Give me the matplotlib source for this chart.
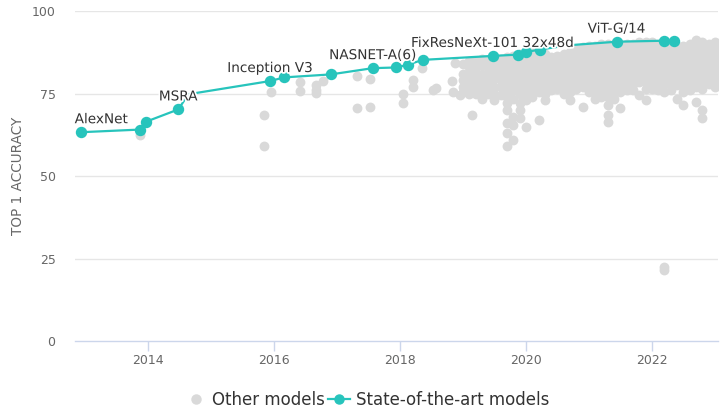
import matplotlib
matplotlib.use("Agg")
import matplotlib.pyplot as plt
import matplotlib.patheffects as pe
from matplotlib.lines import Line2D

# ---- state-of-the-art progression (decimal year, top-1 accuracy) ----
sota_year = [2012.93, 2013.87, 2013.97, 2014.48, 2014.64, 2015.94, 2016.16, 2016.90,
             2017.57, 2017.94, 2018.12, 2018.36, 2019.47, 2019.88, 2020.00, 2020.22,
             2020.66, 2021.44, 2022.19, 2022.35]
sota_acc = [63.3, 64.1, 66.5, 70.2, 74.8, 78.8, 79.9, 80.8,
            82.7, 82.9, 83.7, 85.2, 86.4, 86.8, 87.6, 88.3,
            89.6, 90.7, 91.0, 91.0]
sota_visible = [True, True, True, True, False, True, True, True,
                True, True, True, True, True, True, True, True,
                False, True, True, True]
sota_names = {0: "AlexNet", 3: "MSRA", 5: "Inception V3", 8: "NASNET-A(6)",
              12: "FixResNeXt-101 32x48d", 17: "ViT-G/14"}

# ---- other models: sparse early results ----
early_year = [2013.87, 2015.84, 2015.84, 2015.96, 2016.41, 2016.41, 2016.67, 2016.67,
              2016.67, 2016.78, 2017.31, 2017.31, 2017.52, 2017.52, 2018.05, 2018.05,
              2018.21, 2018.21, 2018.35, 2018.53, 2018.58, 2018.82, 2018.84, 2018.87,
              2018.95, 2019.14]
early_acc = [62.5, 68.4, 59.0, 75.5, 78.4, 75.8, 77.7, 76.1,
             75.2, 78.9, 80.4, 70.6, 79.4, 70.9, 74.8, 72.1,
             79.0, 77.0, 82.7, 76.2, 76.7, 78.7, 75.6, 84.4,
             74.6, 68.6]

# ---- other models: dense results from 2019 onward, grouped by release period ----
cloud_year = [2019.0, 2019.1, 2019.2, 2019.3, 2019.4, 2019.5, 2019.6, 2019.7, 2019.8,
              2019.9, 2020.0, 2020.1, 2020.2, 2020.3, 2020.4, 2020.5, 2020.6, 2020.7,
              2020.8, 2020.9, 2021.0, 2021.1, 2021.2, 2021.3, 2021.4, 2021.5, 2021.6,
              2021.7, 2021.8, 2021.9, 2022.0, 2022.1, 2022.2, 2022.3, 2022.4, 2022.5,
              2022.6, 2022.7, 2022.8, 2022.9, 2023.0]
cloud_acc = [
    [84.0, 81.0, 79.0, 77.0, 75.5],
    [85.0, 83.0, 81.0, 79.0, 77.0, 75.0],
    [85.0, 83.0, 81.0, 79.0, 77.0, 75.0],
    [85.5, 83.5, 81.0, 79.0, 77.0, 75.5, 73.5],
    [85.0, 83.0, 81.0, 79.0, 77.0, 75.0],
    [85.5, 83.5, 81.5, 79.5, 77.0, 75.0, 73.0],
    [85.5, 83.0, 81.0, 79.0, 77.0, 74.5],
    [86.0, 84.0, 82.0, 80.0, 78.0, 76.0, 74.0, 72.0, 70.0, 66.0, 63.0, 59.0],
    [86.5, 84.5, 82.5, 80.0, 78.0, 76.0, 73.5, 68.0, 65.5, 61.0],
    [87.0, 85.0, 83.0, 81.0, 79.0, 77.0, 75.0, 72.0, 70.0, 67.5],
    [87.5, 85.0, 83.0, 81.0, 79.0, 77.0, 75.0, 73.0, 65.0],
    [88.0, 86.0, 84.0, 82.0, 80.0, 78.0, 76.0, 74.0],
    [87.5, 85.5, 83.5, 81.5, 79.5, 77.5, 75.5, 67.0],
    [87.0, 85.0, 83.0, 81.0, 79.0, 77.0, 75.0, 73.0],
    [86.0, 84.0, 82.0, 80.0, 78.0, 76.0],
    [86.5, 84.5, 82.5, 80.5, 78.5, 76.5],
    [87.0, 85.0, 83.0, 81.0, 79.0, 77.0, 75.0],
    [87.5, 85.5, 83.5, 81.5, 79.5, 77.5, 75.5, 73.0],
    [88.5, 86.5, 84.5, 82.5, 80.5, 78.5, 76.5],
    [89.0, 87.0, 85.0, 83.0, 81.0, 79.0, 77.0, 71.0],
    [89.5, 87.5, 85.5, 83.5, 81.5, 79.5, 77.5, 75.5],
    [89.5, 87.5, 85.5, 83.5, 81.5, 79.5, 77.5, 75.5, 73.5],
    [90.0, 88.0, 86.0, 84.0, 82.0, 80.0, 78.0, 76.0, 74.0],
    [90.0, 88.0, 86.0, 84.0, 82.0, 80.0, 78.0, 76.0, 74.0, 71.5, 68.5, 66.5],
    [89.5, 87.5, 85.5, 83.5, 81.5, 79.5, 77.5, 75.5, 73.5],
    [89.5, 87.5, 85.5, 83.5, 81.5, 79.5, 77.5, 75.5, 70.5],
    [90.0, 88.0, 86.0, 84.0, 82.0, 80.0, 78.0, 76.0],
    [90.0, 88.0, 86.0, 84.0, 82.0, 80.0, 78.0, 76.0],
    [90.5, 88.5, 86.5, 84.5, 82.5, 80.5, 78.5, 74.5],
    [90.5, 88.5, 86.5, 84.5, 82.5, 80.5, 78.5, 76.5, 73.0],
    [90.5, 88.5, 86.5, 84.5, 82.5, 80.5, 78.5, 76.5],
    [90.0, 88.0, 86.0, 84.0, 82.0, 80.0, 78.0, 76.0],
    [90.0, 88.0, 86.0, 84.0, 82.0, 80.0, 78.0, 75.5, 22.5, 21.6],
    [90.0, 88.0, 86.0, 84.0, 82.0, 80.0, 78.0, 76.0],
    [89.5, 87.5, 85.5, 83.5, 81.5, 79.5, 77.5, 73.5],
    [89.5, 87.5, 85.5, 83.5, 81.5, 79.5, 77.5, 75.5, 71.5],
    [90.0, 88.0, 86.0, 84.0, 82.0, 80.0, 78.0, 76.0],
    [91.3, 89.0, 87.0, 85.0, 83.0, 81.0, 79.0, 77.0, 72.5],
    [90.5, 88.5, 86.5, 84.5, 82.5, 80.5, 78.5, 76.5, 70.0, 67.6],
    [90.0, 88.0, 86.0, 84.0, 82.0, 80.0, 78.0],
    [90.5, 88.5, 86.5, 84.5, 82.5, 80.5, 78.5, 77.0],
]

year_ticks = [2014, 2016, 2018, 2020, 2022]
acc_ticks = [0, 25, 50, 75, 100]

GREY = "#d9d9d9"
TEAL = "#27c4bc"
TEXT = "#666666"

other_x = list(early_year)
other_y = list(early_acc)
for yr, accs in zip(cloud_year, cloud_acc):
    other_x += [yr] * len(accs)
    other_y += accs

fig = plt.figure(figsize=(7.2, 4.09), dpi=100)
ax = fig.add_axes([75 / 720, 1 - 341.3 / 409, 643 / 720, 330.3 / 409])

ax.scatter(other_x, other_y, s=50, color=GREY, linewidths=0, zorder=2)
ax.plot(sota_year, sota_acc, color=TEAL, lw=1.6, zorder=3)
vx = [x for x, v in zip(sota_year, sota_visible) if v]
vy = [y for y, v in zip(sota_acc, sota_visible) if v]
ax.plot(vx, vy, ls="none", marker="o", ms=7.2, color=TEAL, mec=TEAL, zorder=4)

halo = [pe.withStroke(linewidth=2.5, foreground="white")]
for i, name in sota_names.items():
    if i == 0:
        ax.annotate(name, (sota_year[i], sota_acc[i]), xytext=(-6, 6),
                    textcoords="offset pixels", ha="left", va="bottom",
                    fontsize=9.8, color="#333333", path_effects=halo, zorder=5)
    else:
        ax.annotate(name, (sota_year[i], sota_acc[i]), xytext=(0, 6),
                    textcoords="offset pixels", ha="center", va="bottom",
                    fontsize=9.8, color="#333333", path_effects=halo, zorder=5)

ax.set_xlim(2012.84, 2023.05)
ax.set_ylim(0, 100)
ax.set_xticks(year_ticks)
ax.set_xticklabels([str(t) for t in year_ticks])
ax.set_yticks(acc_ticks)
ax.set_yticklabels([str(t) for t in acc_ticks])

for y in acc_ticks[1:]:
    ax.axhline(y, color="#e6e6e6", lw=1, zorder=1)
for s in ["top", "right", "left"]:
    ax.spines[s].set_visible(False)
ax.spines["bottom"].set_color("#ccd6eb")
ax.spines["bottom"].set_linewidth(1)

ax.tick_params(axis="x", length=7.5, width=1, color="#ccd6eb", pad=2,
               labelsize=9, labelcolor=TEXT)
ax.tick_params(axis="y", length=0, pad=14, labelsize=9, labelcolor=TEXT)
ax.set_ylabel("TOP 1 ACCURACY", fontsize=9.8, color=TEXT)
ax.yaxis.set_label_coords(-0.078, 0.5)

handles = [
    Line2D([], [], ls="none", marker="o", ms=6.5, color=GREY, mec=GREY),
    Line2D([], [], color=TEAL, lw=1.6, marker="o", ms=6.5, mec=TEAL),
]
fig.legend(handles, ["Other models", "State-of-the-art models"], loc="center",
           bbox_to_anchor=(367 / 720, 1 - 400 / 409), ncol=2, frameon=False,
           fontsize=12, labelcolor="#333333", handlelength=1.3, handletextpad=0.35,
           columnspacing=0.2)

fig.savefig("out.png", dpi=100)
